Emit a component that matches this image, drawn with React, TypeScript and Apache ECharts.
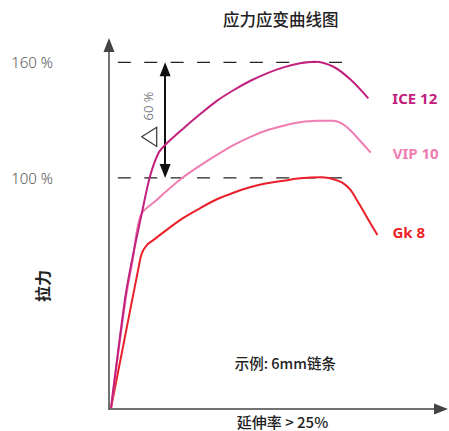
import React, { useEffect, useRef } from "react";
import * as echarts from "echarts";

// ---- data ----
const seriesNames = ["ICE 12", "VIP 10", "Gk 8"];
const seriesColors = ["#c2207e", "#f07db2", "#ea1f28"];

const ice12: number[][] = [
  [0.6, -19.5], [4.7, 36.6], [6.7, 56.3], [9.7, 81.6], [12.1, 100.6], [14.6, 112.8],
  [16.6, 117.1], [22.0, 125.7], [26.9, 133.0], [31.9, 140.0], [36.8, 145.5],
  [41.7, 150.3], [46.7, 154.3], [51.6, 157.4], [56.5, 159.5], [60.9, 160.3],
  [66.4, 157.7], [71.6, 150.8], [76.7, 141.3],
];
const vip10: number[][] = [
  [0.6, -19.5], [4.9, 36.6], [6.9, 56.3], [9.4, 80.7], [14.1, 88.5], [17.8, 94.3],
  [21.5, 99.8], [26.7, 106.1], [31.9, 111.9], [36.8, 117.0], [41.7, 121.2],
  [46.7, 124.7], [51.6, 127.1], [56.5, 128.9], [61.4, 129.7], [66.4, 129.7],
  [68.8, 128.3], [71.3, 124.9], [77.4, 113.1],
];
const gk8: number[][] = [
  [0.6, -19.5], [8.7, 53.0], [9.7, 60.8], [11.2, 65.1], [13.1, 67.7], [21.0, 78.1],
  [26.9, 84.2], [31.9, 88.9], [36.8, 92.3], [41.7, 95.1], [46.7, 97.2],
  [51.6, 98.5], [56.5, 99.8], [62.9, 100.3], [66.4, 99.3], [69.0, 97.5],
  [71.3, 94.0], [73.5, 88.0], [76.2, 79.8], [79.4, 70.3],
];
const endLabelDistances = [24, 22, 15];

const yTickValues = [100, 160];
const refLevels = [100, 160];
const refSpan = [-13, 69.2];
const deltaX = 16.6;
const deltaLabel = "60 %";
const xRange = [0, 98.2];
const yRange = [-20, 169];

const titleText = "应力应变曲线图";
const yName = "拉力";
const xName = "延伸率 > 25%";
const noteText = "示例: 6mm链条";

const CJK = "'Noto Sans CJK SC', 'Noto Sans', sans-serif";
const LATIN = "'Noto Sans', 'Noto Sans CJK SC', sans-serif";

const W = 449;
const H = 431;
const GRID = { left: 109, right: 8, top: 45, bottom: 22 };
const ARROW = [11, 14];

export default function App() {
  const ref = useRef<HTMLDivElement>(null);

  useEffect(() => {
    if (!ref.current) return;
    const chart = echarts.init(ref.current, null, { renderer: "svg" });
    const curves = [ice12, vip10, gk8];
    const pxPerUnitY = (H - GRID.top - GRID.bottom) / (yRange[1] - yRange[0]);
    const inset = ARROW[1] / 2 / pxPerUnitY;

    const curveSeries = curves.map((data, i) => ({
      type: "line",
      name: seriesNames[i],
      data,
      smooth: 0.3,
      symbol: "none",
      silent: true,
      z: i === 0 ? 5 : i === 1 ? 4 : 3,
      lineStyle: { color: seriesColors[i], width: 2 },
      endLabel: {
        show: true,
        formatter: "{a}",
        distance: endLabelDistances[i],
        offset: i === 2 ? [0, -3] : [0, 0],
        color: seriesColors[i],
        fontSize: 15,
        fontWeight: "bold",
        fontFamily: LATIN,
      },
    }));

    const refSeries = refLevels.map((lvl, i) => ({
      type: "line",
      data: [
        [refSpan[0], lvl],
        [refSpan[1], lvl],
      ],
      clip: false,
      symbol: "none",
      silent: true,
      z: 2,
      lineStyle: { color: "#222", width: 1.3, type: [13, 13.4] },
      markLine:
        i === 1
          ? {
              silent: true,
              symbol: "triangle",
              symbolSize: 14,
              label: { show: false },
              lineStyle: { color: "#111", width: 2, type: "solid" },
              itemStyle: { color: "#111" },
              data: [
                [
                  { coord: [deltaX, refLevels[1] - inset], symbol: "triangle", symbolSize: ARROW },
                  { coord: [deltaX, refLevels[0] + inset], symbol: "triangle", symbolSize: ARROW },
                ],
              ],
            }
          : undefined,
    }));

    chart.setOption({
      animation: false,
      title: {
        text: titleText,
        left: 223,
        top: 11,
        padding: 0,
        textStyle: { fontSize: 16.5, fontWeight: 500, color: "#222", fontFamily: CJK },
      },
      grid: { ...GRID, containLabel: false, outerBoundsMode: "none" },
      xAxis: {
        type: "value",
        min: xRange[0],
        max: xRange[1],
        axisLine: {
          show: true,
          onZero: false,
          symbol: ["none", "triangle"],
          symbolSize: ARROW,
          lineStyle: { color: "#444", width: 1.5 },
        },
        axisTick: { show: false },
        axisLabel: { show: false },
        splitLine: { show: false },
      },
      yAxis: {
        type: "value",
        min: yRange[0],
        max: yRange[1],
        axisLine: {
          show: true,
          onZero: false,
          symbol: ["none", "triangle"],
          symbolSize: ARROW,
          lineStyle: { color: "#444", width: 1.5 },
        },
        axisTick: { show: false },
        splitLine: { show: false },
        axisLabel: {
          customValues: yTickValues,
          formatter: "{value} %",
          margin: 56,
          fontSize: 15,
          color: "#555",
          fontWeight: 300,
          fontFamily: LATIN,
        },
      },
      graphic: [
        {
          type: "text",
          x: 147.7,
          y: 106,
          rotation: Math.PI / 2,
          silent: true,
          style: {
            text: deltaLabel,
            fontSize: 13,
            fill: "#555",
            fontWeight: 300,
            fontFamily: LATIN,
            align: "center",
            verticalAlign: "middle",
          },
        },
        {
          type: "polygon",
          silent: true,
          shape: {
            points: [
              [141.7, 136.8],
              [156.7, 127.3],
              [156.7, 146.5],
            ],
          },
          style: { fill: "none", stroke: "#333", lineWidth: 1.2 },
        },
        {
          type: "text",
          x: 41.7,
          y: 286,
          rotation: Math.PI / 2,
          silent: true,
          style: {
            text: yName,
            fontSize: 16,
            fill: "#222",
            fontWeight: "bold",
            fontFamily: CJK,
            align: "center",
            verticalAlign: "middle",
          },
        },
        {
          type: "text",
          x: 285.3,
          y: 362,
          silent: true,
          style: {
            text: noteText,
            fontSize: 14.5,
            fill: "#222",
            fontWeight: 500,
            fontFamily: CJK,
            align: "center",
            verticalAlign: "middle",
          },
        },
        {
          type: "text",
          x: 282.5,
          y: 421,
          silent: true,
          style: {
            text: xName,
            fontSize: 15,
            fill: "#222",
            fontWeight: 500,
            fontFamily: CJK,
            align: "center",
            verticalAlign: "middle",
          },
        },
      ],
      series: [...refSeries, ...curveSeries],
    });

    return () => {
      chart.dispose();
    };
  }, []);

  return (
    <div
      ref={ref}
      style={{ position: "fixed", left: 0, top: 0, width: W, height: H, background: "#fff" }}
    />
  );
}
